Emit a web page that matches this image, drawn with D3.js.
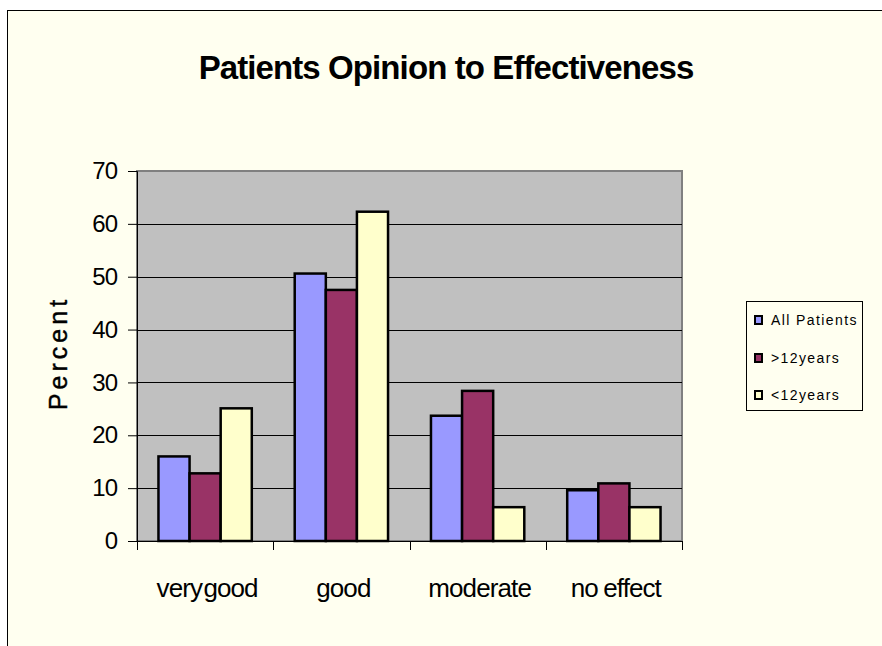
<!DOCTYPE html>
<meta charset="utf-8">
<script src="https://d3js.org/d3.v7.min.js"></script>
<style>
  body { margin: 0; background: #fff; }
  text { font-family: "Liberation Sans", Arial, sans-serif; }
</style>
<div id="my_dataviz"></div>
<script>

  // data
  var categories = ["very good", "good", "moderate", "no effect"]
  var seriesNames = ["All Patients", ">12years", "<12years"]
  var allPatients = [16, 50.6, 23.7, 9.6]
  var over12 = [12.8, 47.5, 28.4, 10.9]
  var under12 = [25.1, 62.3, 6.4, 6.4]
  var yTicks = [0, 10, 20, 30, 40, 50, 60, 70]

  var colors = ["#9999FF", "#993366", "#FFFFCC"]
  var series = [allPatients, over12, under12]

  var W = 882, H = 646
  var svg = d3.select("#my_dataviz")
    .append("svg")
      .attr("width", W)
      .attr("height", H)

  // chart area frame
  svg.append("rect")
    .attr("x", 7.5).attr("y", 10.5)
    .attr("width", W + 10).attr("height", H + 10)
    .style("fill", "#FFFFF0")
    .style("stroke", "#000")
    .style("stroke-width", 1)

  // title
  svg.append("text")
    .attr("x", 446).attr("y", 79)
    .attr("text-anchor", "middle")
    .style("font-size", "33px")
    .style("font-weight", "bold")
    .style("letter-spacing", "-0.9px")
    .text("Patients Opinion to Effectiveness")

  // plot area
  var pLeft = 137, pRight = 682, pTop = 171, pBottom = 541

  var x = d3.scaleBand()
    .domain(categories)
    .range([pLeft, pRight])

  var x1 = d3.scaleBand()
    .domain(d3.range(series.length))
    .range([0, x.bandwidth()])
    .paddingInner(0)
    .paddingOuter(0.69)

  var y = d3.scaleLinear()
    .domain([0, 70])
    .range([pBottom, pTop])

  svg.append("rect")
    .attr("x", pLeft).attr("y", pTop)
    .attr("width", pRight - pLeft).attr("height", pBottom - pTop)
    .style("fill", "#C0C0C0")
    .style("stroke", "#808080")
    .style("stroke-width", 2)

  // gridlines
  svg.append("g")
    .selectAll("line")
    .data(yTicks.slice(1, -1))
    .enter()
    .append("line")
      .attr("x1", pLeft).attr("x2", pRight)
      .attr("y1", function(d) { return Math.round(y(d)) + 0.5 })
      .attr("y2", function(d) { return Math.round(y(d)) + 0.5 })
      .style("stroke", "#000")
      .style("stroke-width", 1)

  // bars
  var groups = svg.append("g")
    .selectAll("g")
    .data(series)
    .enter()
    .append("g")
      .style("fill", function(d, i) { return colors[i] })

  groups.each(function(vals, si) {
    d3.select(this).selectAll("rect")
      .data(vals)
      .enter()
      .append("rect")
        .attr("x", function(d, i) { return x(categories[i]) + x1(si) })
        .attr("y", function(d) { return y(d) })
        .attr("width", x1.bandwidth())
        .attr("height", function(d) { return y(0) - y(d) })
        .style("stroke", "#000")
        .style("stroke-width", 2.5)
  })

  // y axis
  var yAxis = svg.append("g")
    .attr("transform", "translate(" + pLeft + ",0)")
    .call(d3.axisLeft(y).tickValues(yTicks).tickSize(9).tickPadding(11))
  yAxis.select(".domain").style("stroke", "#000")
  yAxis.selectAll("line").style("stroke", "#000")
  yAxis.selectAll("text")
    .style("font-size", "24px")
    .style("letter-spacing", "-1px")
    .style("font-family", "Liberation Sans, Arial, sans-serif")
    .style("fill", "#000")

  // x axis with ticks at category boundaries
  svg.append("line")
    .attr("x1", pLeft).attr("x2", pRight)
    .attr("y1", pBottom + 0.5).attr("y2", pBottom + 0.5)
    .style("stroke", "#000")
  var bounds = categories.map(function(c) { return x(c) }).concat([pRight])
  svg.append("g")
    .selectAll("line")
    .data(bounds)
    .enter()
    .append("line")
      .attr("x1", function(d) { return Math.round(d) + 0.5 })
      .attr("x2", function(d) { return Math.round(d) + 0.5 })
      .attr("y1", pBottom).attr("y2", pBottom + 9)
      .style("stroke", "#000")

  svg.append("g")
    .selectAll("text")
    .data(categories)
    .enter()
    .append("text")
      .attr("x", function(d) { return x(d) + x.bandwidth() / 2 + 2 })
      .attr("y", 597)
      .attr("text-anchor", "middle")
      .style("font-size", "26px")
      .style("letter-spacing", "-0.9px")
      .style("word-spacing", function(d) { return d == "very good" ? "-5px" : "-1px" })
      .text(function(d) { return d })

  // y label
  svg.append("text")
    .attr("transform", "translate(67,353) rotate(-90)")
    .attr("text-anchor", "middle")
    .style("font-size", "25px")
    .style("letter-spacing", "4px")
    .style("stroke", "#000")
    .style("stroke-width", 0.4)
    .text("Percent")

  // legend
  var lg = svg.append("g")
  lg.append("rect")
    .attr("x", 746.5).attr("y", 301.5)
    .attr("width", 116).attr("height", 109)
    .style("fill", "#FFFFF0")
    .style("stroke", "#000")
  var rowY = [320, 358, 395]
  lg.selectAll("rect.key")
    .data(seriesNames)
    .enter()
    .append("rect")
      .attr("class", "key")
      .attr("x", 755)
      .attr("y", function(d, i) { return rowY[i] - 4 })
      .attr("width", 7).attr("height", 8)
      .style("fill", function(d, i) { return colors[i] })
      .style("stroke", "#000")
      .style("stroke-width", 2)
  lg.selectAll("text")
    .data(seriesNames)
    .enter()
    .append("text")
      .attr("x", 771)
      .attr("y", function(d, i) { return rowY[i] + 5 })
      .style("font-size", "14px")
      .style("letter-spacing", "1.4px")
      .text(function(d) { return d })

</script>
